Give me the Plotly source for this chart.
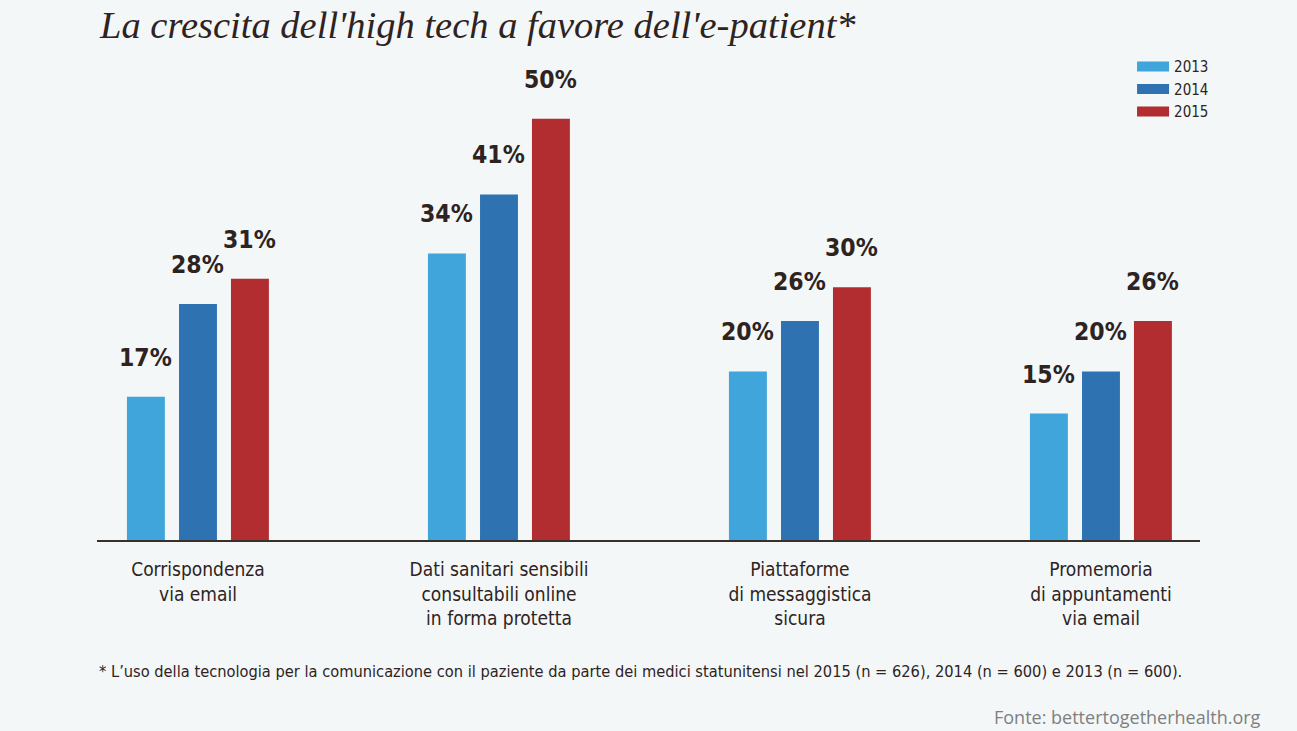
import plotly.graph_objects as go

categories = ["Corrispondenza<br>via email",
              "Dati sanitari sensibili<br>consultabili online<br>in forma protetta",
              "Piattaforme<br>di messaggistica<br>sicura",
              "Promemoria<br>di appuntamenti<br>via email"]
years = ["2013", "2014", "2015"]
v2013 = [17, 34, 20, 15]
v2014 = [28, 41, 26, 20]
v2015 = [31, 50, 30, 26]
series = [v2013, v2014, v2015]
colors = ["#3fa5da", "#2f72b2", "#b22d30"]

pos = list(range(len(categories)))
BG = "#f3f7f8"
TXT = "#2e231e"
COND = "Liberation Sans Narrow, DejaVu Sans Condensed, Arial Narrow, sans-serif"

BAR_W = 0.126
offsets = [-0.236, -0.063, 0.1096]

fig = go.Figure()
annotations = []
for name, vals, col, off in zip(years, series, colors, offsets):
    fig.add_trace(go.Bar(
        x=pos, y=vals, name=name, marker_color=col, marker_line_width=0,
        width=BAR_W, offset=off, cliponaxis=False, showlegend=False,
    ))
    # legend entry drawn as a thick line swatch
    fig.add_trace(go.Scatter(
        x=[None], y=[None], mode="lines", name=name,
        line=dict(color=col, width=16), showlegend=True, hoverinfo="skip",
    ))
    for p, v in zip(pos, vals):
        annotations.append(dict(
            x=p + off + BAR_W / 2, y=v, xref="x", yref="y",
            text=f"<b>{v}%</b>", showarrow=False,
            xanchor="center", yanchor="bottom", yshift=23,
            font=dict(family=COND, size=24.5, color=TXT),
        ))

annotations += [
    dict(text="La crescita dell'high tech a favore dell'e-patient*",
         xref="paper", yref="paper", x=0, y=1.0, xanchor="left", yanchor="middle",
         yshift=6, showarrow=False,
         font=dict(family="Liberation Serif, serif", size=38.5, color=TXT, style="italic")),
    dict(text="* L’uso della tecnologia per la comunicazione con il paziente da parte dei medici statunitensi nel 2015 (n = 626), 2014 (n = 600) e 2013 (n = 600).",
         xref="paper", yref="paper", x=0, y=0, xanchor="left", yanchor="middle",
         yshift=-(671 - 540), showarrow=False,
         font=dict(family=COND, size=16.3, color=TXT)),
    dict(text="Fonte: bettertogetherhealth.org",
         xref="paper", yref="paper", x=1, y=0, xanchor="right", yanchor="middle",
         xshift=63, yshift=-(717 - 540), showarrow=False,
         font=dict(family="Open Sans, sans-serif", size=18, color="#7f7f7f")),
]

fig.update_layout(
    width=1297, height=731,
    paper_bgcolor=BG, plot_bgcolor=BG,
    barmode="overlay",
    margin=dict(l=97, r=97, t=31, b=191, autoexpand=False),
    showlegend=True,
    legend=dict(x=0.9384, y=0.962, xanchor="left", yanchor="top",
                font=dict(family=COND, size=15, color=TXT),
                bgcolor="rgba(0,0,0,0)", itemwidth=32, tracegroupgap=0),
    xaxis=dict(range=[-0.3355, 3.329], tickvals=pos, ticktext=categories,
               showgrid=False, zeroline=False, showline=True, linecolor="#3a302a",
               linewidth=2, ticks="", ticklabelstandoff=11, automargin=False,
               tickfont=dict(family=COND, size=19, color=TXT)),
    yaxis=dict(range=[0, 60.4], visible=False, automargin=False),
    annotations=annotations,
)

fig.write_html("out.html")
